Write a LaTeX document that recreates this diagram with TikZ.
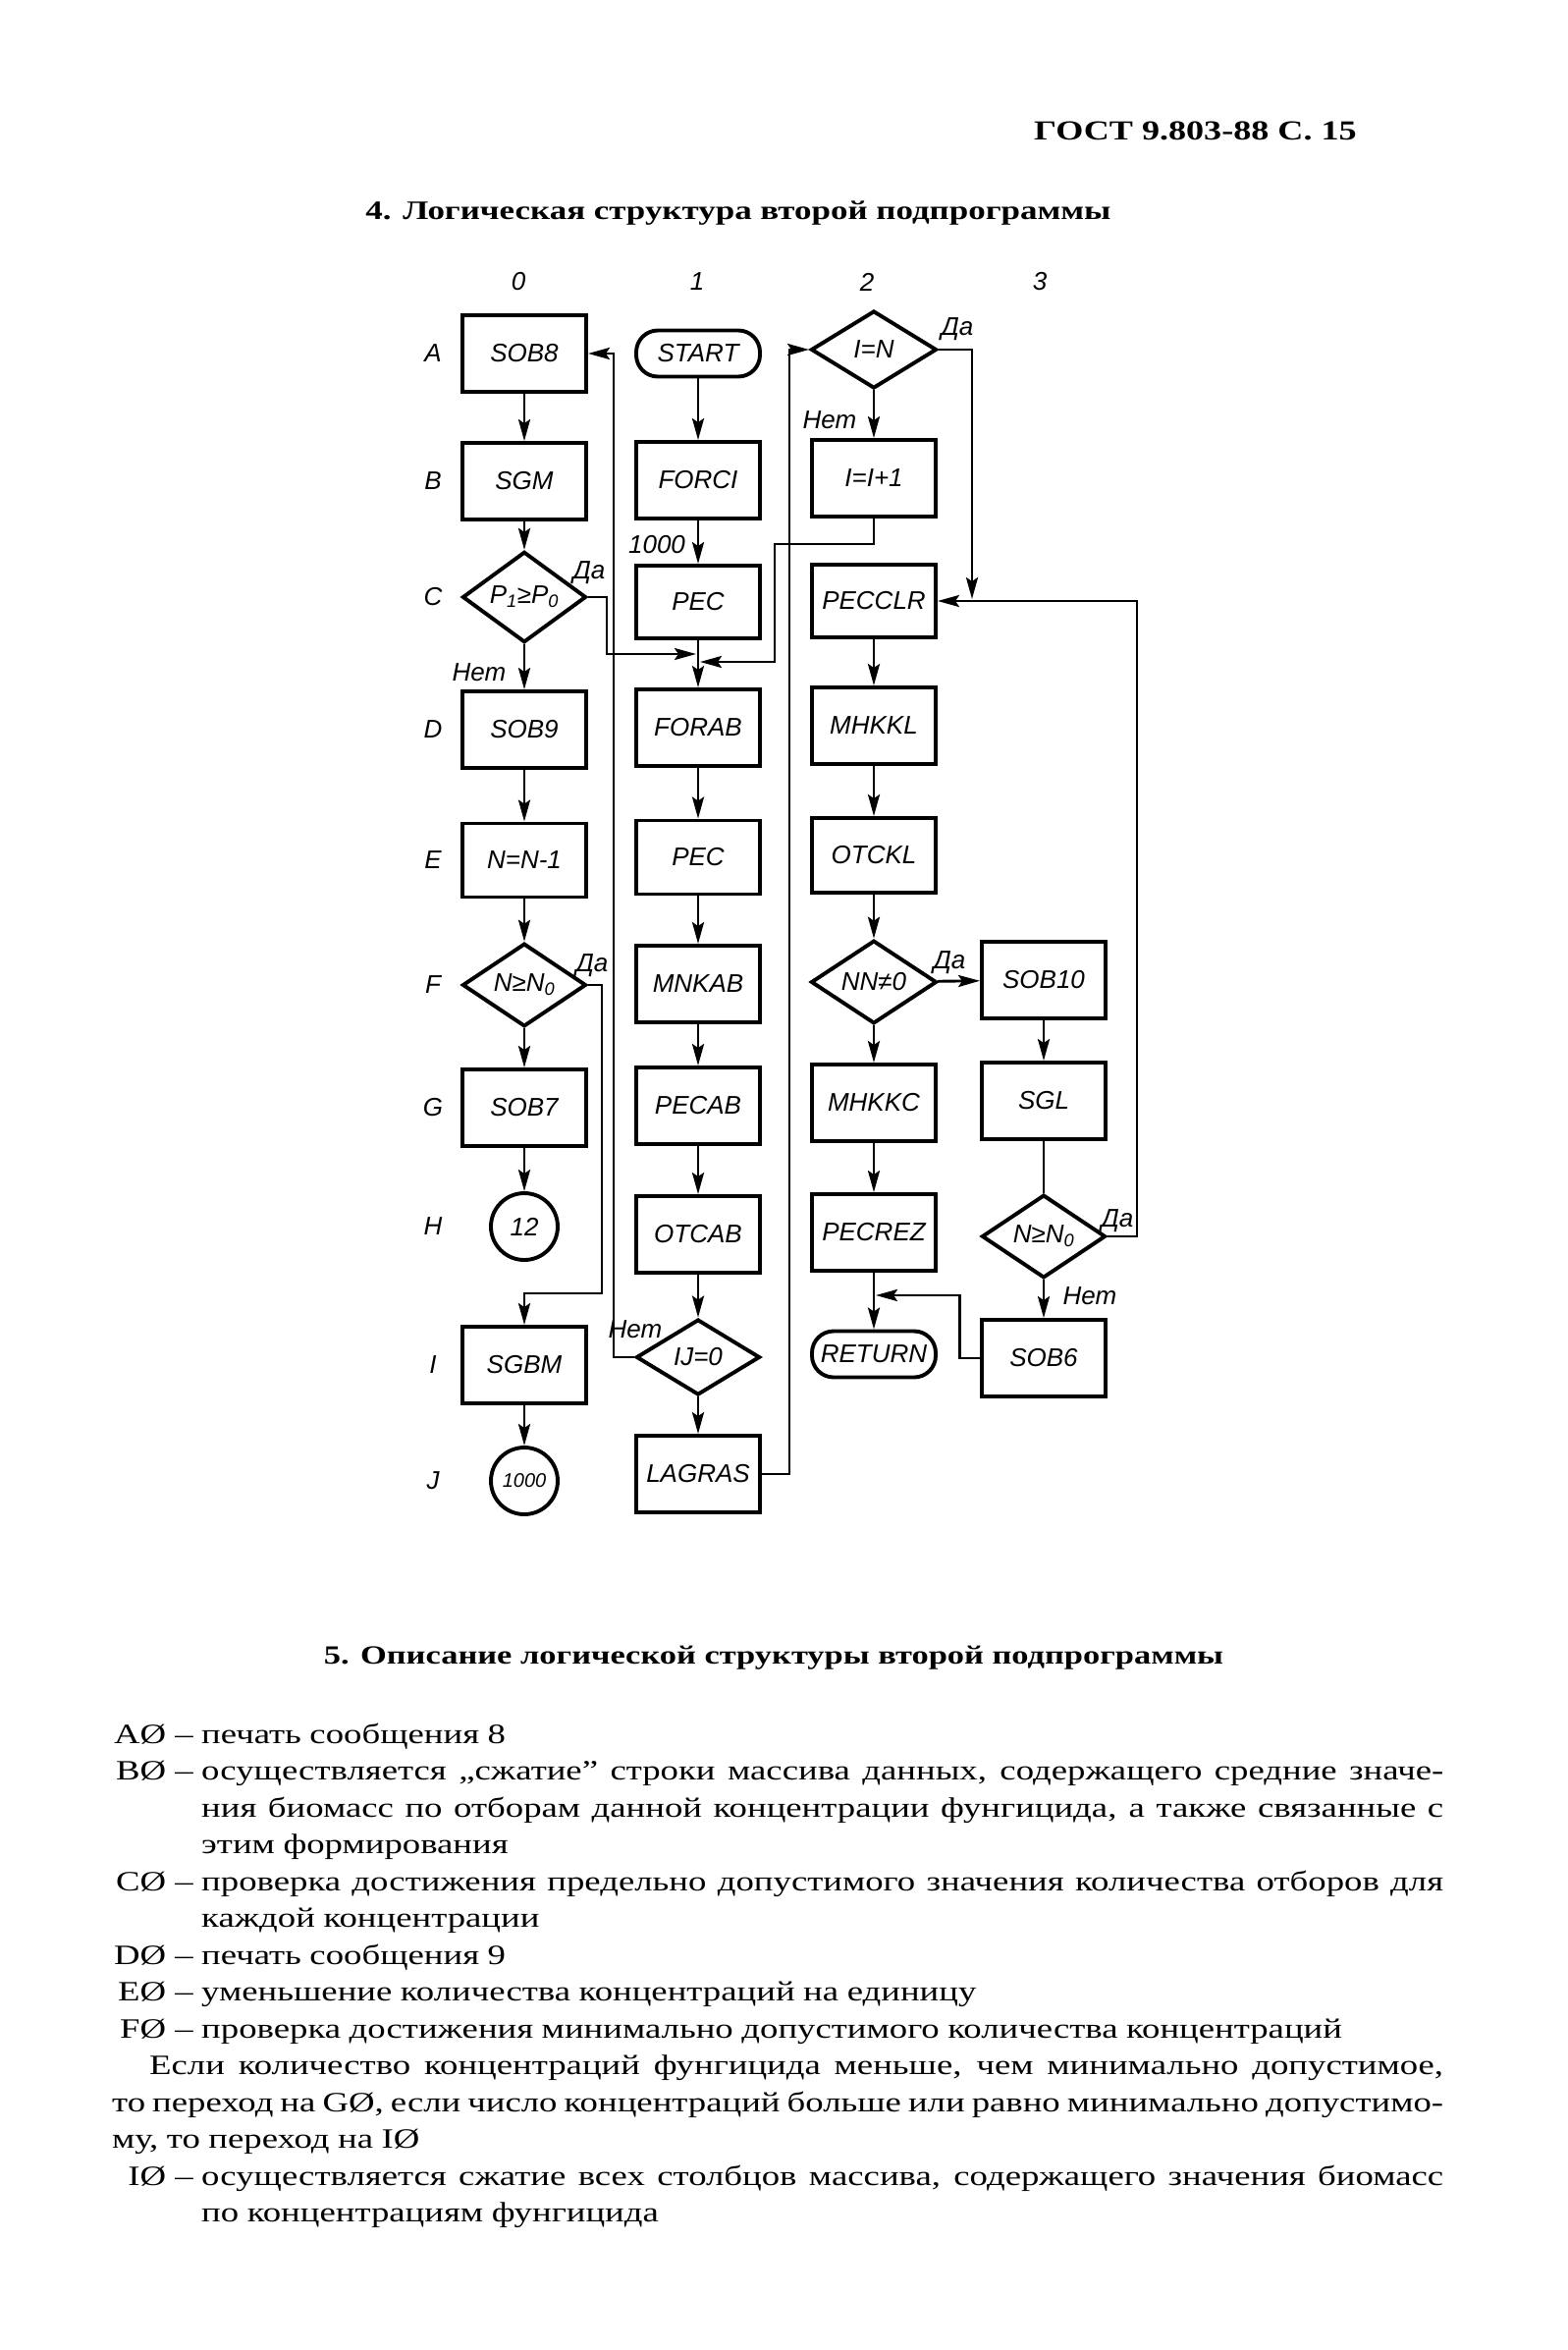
\documentclass[tikz,border=0pt]{standalone}
\usepackage{fontspec}
\setmainfont[FakeStretch=1.29]{Liberation Serif}
\newfontfamily\chartfont{Liberation Sans}
\usetikzlibrary{shapes.geometric,arrows.meta,positioning}
\newcommand\bodysize{\fontsize{28.5}{37.5}\selectfont}
\newcommand\chartsize{\chartfont\itshape\fontsize{26}{26}\selectfont}
\newcommand\nobreaks{\sloppy\hyphenpenalty=10000\spaceskip=.3em plus 1em minus .15em\relax}
\tikzset{
  blok/.style={draw, line width=3.9pt, minimum width=126pt, minimum height=78pt, inner sep=0pt, font=\chartsize},
  romb/.style={blok, diamond, minimum width=126pt, minimum height=77pt},
  term/.style={blok, rounded corners=22pt, minimum height=47pt},
  krug/.style={blok, circle, minimum size=68pt},
  lin/.style={line width=2.9pt},
  arr/.style={lin, -{Stealth[length=22pt,width=12pt,inset=4pt]}},
  lbl/.style={inner sep=0pt, font=\chartsize},
  txt/.style={inner sep=0pt, font=\bodysize},
  abzac/.style={txt, anchor=base west, text width=1265pt, align=justify, execute at begin node={\nobreaks}},
  zag/.style={inner sep=0pt, font=\bfseries\fontsize{27.1}{27.1}\selectfont},
}
\begin{document}
\begin{tikzpicture}[x=1pt,y=-1pt]
\useasboundingbox (0,0) rectangle (1596,2393);

\node[zag, anchor=base west, font=\bfseries\fontsize{28}{28}\selectfont] (gost) at (1053,142) {ГОСТ 9.803-88 С. 15};
\node[zag, anchor=base] (tit4) at (752,223) {4. Логическая структура второй подпрограммы};

\foreach \c/\x in {0/528,1/710,2/883,3/1059}
  \node[lbl] (k\c) at (\x,287) {\c};
\foreach \r/\y in {A/360,B/490,C/608,D/743,E/876,F/1003,G/1128,H/1249,I/1390,J/1508}
  \node[lbl] (r\r) at (441,\y) {\r};

\node[blok] (A0) at (534,360) {SOB8};
\node[blok] (B0) at (534,490) {SGM};
\node[romb] (C0) at (534,608) {P\textsubscript{1}≥P\textsubscript{0}};
\node[blok] (D0) at (534,743) {SOB9};
\node[blok, minimum height=75pt] (E0) at (534,876) {N=N-1};
\node[romb] (F0) at (534,1003) {N≥N\textsubscript{0}};
\node[blok] (G0) at (534,1128) {SOB7};
\node[krug] (H0) at (534,1249) {12};
\node[blok] (I0) at (534,1390) {SGBM};
\node[krug, font=\chartfont\itshape\fontsize{20}{20}\selectfont] (J0) at (534,1508) {1000};

\node[term] (A1) at (711,360) {START};
\node[blok] (B1) at (711,489) {FORCI};
\node[blok, minimum height=74pt] (C1) at (711,613) {PEC};
\node[blok] (D1) at (711,741) {FORAB};
\node[blok, minimum height=75pt] (E1) at (711,873) {PEC};
\node[blok] (F1) at (711,1002) {MNKAB};
\node[blok] (G1) at (711,1126) {PECAB};
\node[blok] (H1) at (711,1257) {OTCAB};
\node[romb] (I1) at (711,1382) {IJ=0};
\node[blok] (J1) at (711,1501) {LAGRAS};

\node[romb, minimum width=128pt, minimum height=79pt] (A2) at (890,356) {I=N};
\node[blok] (B2) at (890,487) {I=I+1};
\node[blok, minimum height=74pt] (C2) at (890,612) {PECCLR};
\node[blok] (D2) at (890,739) {MHKKL};
\node[blok, minimum height=76pt] (E2) at (890,871) {OTCKL};
\node[romb, minimum width=128pt] (F2) at (890,1000) {NN≠0};
\node[blok] (G2) at (890,1123) {MHKKC};
\node[blok] (H2) at (890,1255) {PECREZ};
\node[term] (I2) at (890,1379) {RETURN};

\node[blok] (F3) at (1063,998) {SOB10};
\node[blok] (G3) at (1063,1121) {SGL};
\node[romb] (H3) at (1063,1259) {N≥N\textsubscript{0}};
\node[blok] (I3) at (1063,1383) {SOB6};

\coordinate (jC) at (709,666);
\coordinate (jB) at (713,674);
\coordinate (kA) at (625,360);
\coordinate (kL) at (804,356);
\coordinate (jA) at (990,610);
\coordinate (kH) at (1158,612);
\coordinate (jH) at (892,1319);
\coordinate (kF) at (534,1317);

\draw[arr] (A0) -- (B0);
\draw[arr] (B0) -- (C0);
\draw[arr] (C0) -- (D0);
\draw[arr] (D0) -- (E0);
\draw[arr] (E0) -- (F0);
\draw[arr] (F0) -- (G0);
\draw[arr] (G0) -- (H0);
\draw[arr] (I0) -- (J0);
\draw[arr] (C0.east) -- ++(19,0) |- (jC);
\draw[arr] (F0.east) -- ++(14,0) |- (kF) -- (I0);

\draw[arr] (A1) -- (B1);
\draw[arr] (B1) -- (C1);
\draw[arr] (C1) -- (D1);
\draw[arr] (D1) -- (E1);
\draw[arr] (E1) -- (F1);
\draw[arr] (F1) -- (G1);
\draw[arr] (G1) -- (H1);
\draw[arr] (H1) -- (I1);
\draw[arr] (I1) -- (J1);
\draw[arr] (I1.west) -| (kA) -- (A0.east);
\draw[arr] (J1.east) -| (kL) -- (A2.west);

\draw[arr] (A2) -- (B2);
\draw[arr] (B2.south) -- ++(0,26) -- ++(-101,0) |- (jB);
\draw[arr] (A2.east) -| (jA);
\draw[arr] (C2) -- (D2);
\draw[arr] (D2) -- (E2);
\draw[arr] (E2) -- (F2);
\draw[arr] (F2) -- (G2);
\draw[arr] (G2) -- (H2);
\draw[arr] (H2) -- (I2);
\draw[arr] (F2) -- (F3);

\draw[arr] (F3) -- (G3);
\draw[lin] (G3) -- (H3);
\draw[arr] (H3) -- (I3);
\draw[arr] (H3.east) -| (kH) -- (C2.east);
\draw[arr] (I3.west) -- ++(-21,0) |- (jH);

\node[lbl] (daC0) at (600,583) {Да};
\node[lbl] (netC0) at (488,685) {Нет};
\node[lbl] (n1000) at (669,555) {1000};
\node[lbl] (daF0) at (603,983) {Да};
\node[lbl] (daA2) at (975,335) {Да};
\node[lbl] (netA2) at (845,428) {Нет};
\node[lbl] (daF2) at (967,980) {Да};
\node[lbl] (daH3) at (1138,1243) {Да};
\node[lbl] (netH3) at (1110,1320) {Нет};
\node[lbl] (netI1) at (647,1354) {Нет};

\node[zag, anchor=base, font=\bfseries\fontsize{26.7}{26.7}\selectfont] (tit5) at (788,1694) {5. Описание логической структуры второй подпрограммы};

\node[txt, anchor=base east] (lA) at (197,1775) {AØ –};
\node[abzac] (tA) at (205,1775) {печать сообщения 8};
\node[txt, anchor=base east] (lB) at (197,1812.5) {BØ –};
\node[abzac] (tB) at (205,1812.5) {осуществляется „сжатие” строки массива данных, содержащего средние значе-\linebreak ния биомасс по отборам данной концентрации фунгицида, а также связанные с\linebreak этим формирования};
\node[txt, anchor=base east] (lC) at (197,1925) {CØ –};
\node[abzac] (tC) at (205,1925) {проверка достижения предельно допустимого значения количества отборов для\linebreak каждой концентрации};
\node[txt, anchor=base east] (lD) at (197,2000) {DØ –};
\node[abzac] (tD) at (205,2000) {печать сообщения 9};
\node[txt, anchor=base east] (lE) at (197,2037.5) {EØ –};
\node[abzac] (tE) at (205,2037.5) {уменьшение количества концентраций на единицу};
\node[txt, anchor=base east] (lF) at (197,2075) {FØ –};
\node[abzac] (tF) at (205,2075) {проверка достижения минимально допустимого количества концентраций};
\node[abzac, text width=1356pt] (tEsli) at (114,2112.5) {\hspace*{38pt}Если количество концентраций фунгицида меньше, чем минимально допустимое,\linebreak то переход на GØ, если число концентраций больше или равно минимально допустимо-\linebreak му, то переход на IØ};
\node[txt, anchor=base east] (lI) at (197,2225) {IØ –};
\node[abzac] (tI) at (205,2225) {осуществляется сжатие всех столбцов массива, содержащего значения биомасс\linebreak по концентрациям фунгицида};
\end{tikzpicture}
\end{document}
